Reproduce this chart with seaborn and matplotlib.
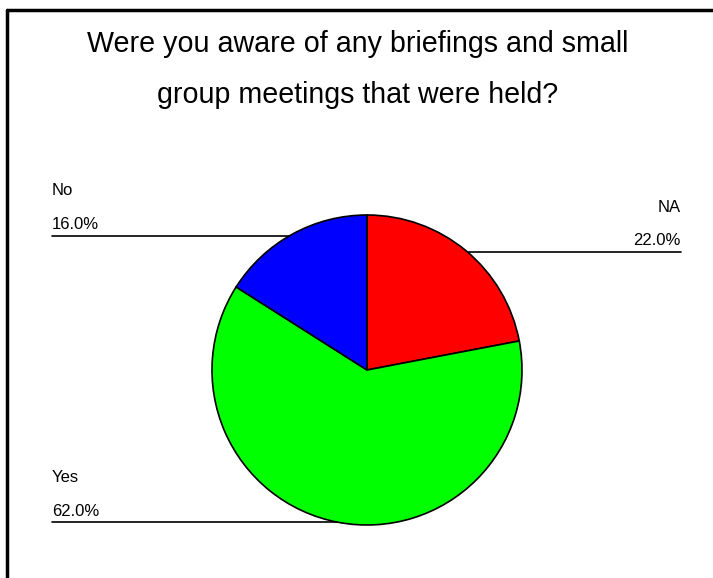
import numpy as np
import matplotlib
matplotlib.use("Agg")
import matplotlib.pyplot as plt
import seaborn as sns

# 데이터
labels = ["NA", "Yes", "No"]
values = [22.0, 62.0, 16.0]
colors = ["#FF0000", "#00FF00", "#0000FF"]
title_lines = ["Were you aware of any briefings and small", "group meetings that were held?"]

sns.set_theme(style="white")
plt.rcParams['font.family'] = ['Liberation Sans', 'DejaVu Sans']
plt.rcParams['text.color'] = 'black'

W, H = 713, 578
fig = plt.figure(figsize=(W / 100, H / 100), dpi=100)
ax = fig.add_axes([0, 0, 1, 1])

def py(y):
    # 픽셀 y (위에서 아래) -> 데이터 y
    return H - y

cx, cy, r = 367, 370, 155
ax.pie(values, colors=colors, startangle=90, counterclock=False,
       center=(cx, py(cy)), radius=r,
       wedgeprops=dict(edgecolor='black', linewidth=1.2))
ax.set_xlim(0, W)
ax.set_ylim(0, H)
ax.set_aspect('auto')
ax.axis('off')

# 테두리 (왼쪽, 위쪽)
ax.plot([7, 7], [py(10), py(H + 5)], color='black', lw=2.5, clip_on=False)
ax.plot([7, W + 5], [py(10), py(10)], color='black', lw=2.5, clip_on=False)

# 제목 (두 줄, 넓은 줄간격)
for line, base in zip(title_lines, [52, 103]):
    ax.text(358, py(base), line, ha='center', va='baseline', fontsize=20.6, color='black')

# 라벨 + 지시선
def edge_x(y, side):
    dy = y - cy
    return cx + side * np.sqrt(r ** 2 - dy ** 2)

label_layout = {
    "No": dict(x=52, y1=195, y2=229, line=236, side=-1, ha='left'),
    "NA": dict(x=681, y1=212, y2=245, line=252, side=1, ha='right'),
    "Yes": dict(x=52, y1=482, y2=516, line=522, side=-1, ha='left'),
}
for lab, val in zip(labels, values):
    L = label_layout[lab]
    ax.text(L['x'], py(L['y1']), lab, ha=L['ha'], va='baseline', fontsize=12, color='black')
    ax.text(L['x'], py(L['y2']), f"{val:.1f}%", ha=L['ha'], va='baseline', fontsize=12, color='black')
    ex = edge_x(L['line'], L['side'])
    ax.plot([L['x'], ex], [py(L['line']), py(L['line'])], color='black', lw=1.2)

fig.savefig("out.png", dpi=100)
